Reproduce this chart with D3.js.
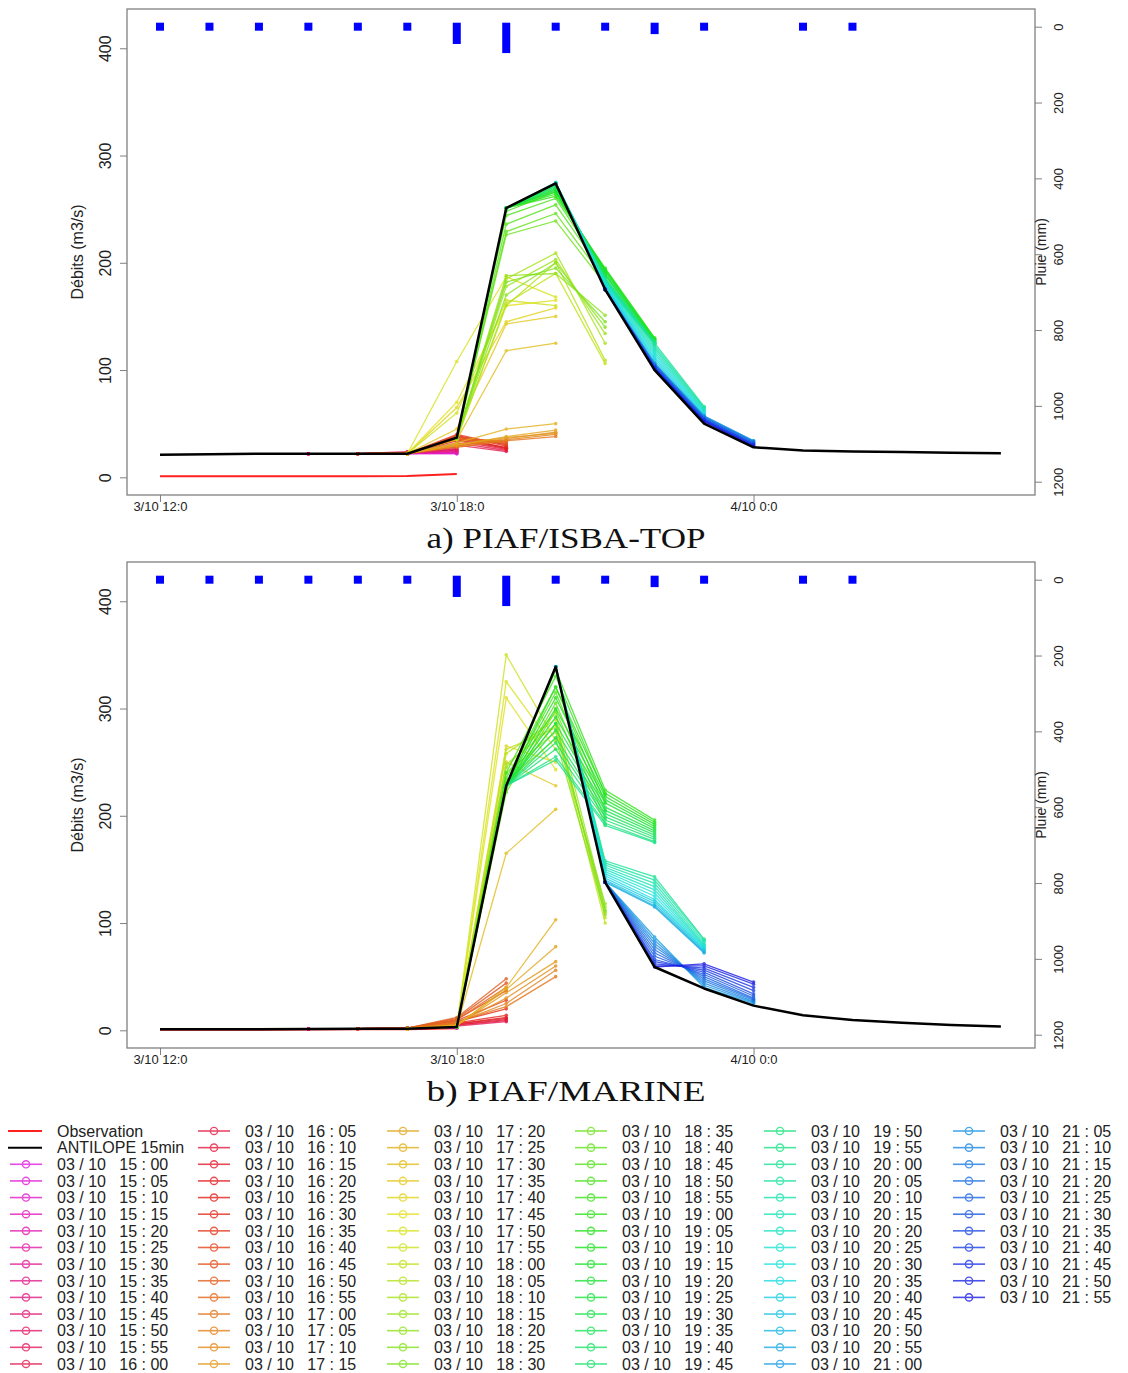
<!DOCTYPE html>
<html><head><meta charset="utf-8">
<script src="https://cdn.jsdelivr.net/npm/d3@7"></script>
<style>body{margin:0;background:#fff} svg{display:block}</style>
</head><body>
<svg id="c" width="1128" height="1373"></svg>
<script>
// ---------- DATA ----------
// hourly x positions: index 0 = 3/10 12:00 ... 17 = 4/10 05:00
const xTickHours = [0, 6, 12];
const xTickLabels = ["3/10 12:0", "3/10 18:0", "4/10 0:0"];
const yTicks = [0, 100, 200, 300, 400];
const rainTicks = [0, 200, 400, 600, 800, 1000, 1200];

// rainfall (mm) per hour, index 0 = 12:00
const rain = [0, 0, 0, 0, 0, 0, 35, 59, 0, 0, 9, 0, null, 0, 0];

// ANTILOPE 15min reference (black)
const antilopeA = [21, 21.5, 22, 22, 22, 22, 37, 251, 274, 175, 100, 50, 28, 25, 24, 23.5, 23, 22.5];
const antilopeB = [1, 1, 1, 1.2, 1.5, 1.5, 3, 228, 339, 138, 59, 39, 23, 14, 9.5, 7, 5, 3.5];
// Observation (red)
const obsA = [1, 1, 1, 1, 1, 1.2, 3];
const obsB = [0.6, 0.6, 0.6, 0.8, 1, 1, 2];

// forecast issue times (03/10)
const issueTimes = [
 "15:00","15:05","15:10","15:15","15:20","15:25","15:30","15:35","15:40","15:45","15:50","15:55",
 "16:00","16:05","16:10","16:15","16:20","16:25","16:30","16:35","16:40","16:45","16:50","16:55",
 "17:00","17:05","17:10","17:15","17:20","17:25","17:30","17:35","17:40","17:45","17:50","17:55",
 "18:00","18:05","18:10","18:15","18:20","18:25","18:30","18:35","18:40","18:45","18:50","18:55",
 "19:00","19:05","19:10","19:15","19:20","19:25","19:30","19:35","19:40","19:45","19:50","19:55",
 "20:00","20:05","20:10","20:15","20:20","20:25","20:30","20:35","20:40","20:45","20:50","20:55",
 "21:00","21:05","21:10","21:15","21:20","21:25","21:30","21:35","21:40","21:45","21:50","21:55"];

// forecasts: 4 hourly values starting at the issue hour
const fcA = [
 [22,22,22,22],[22,22,22,23],[22,22,22,22],[22,22,22,24],[22,22,22,23],[22,22,22,25],
 [22,22,23,26],[22,22,23,24],[22,22,22,27],[22,22,23,25],[22,22,23,28],[22,22,24,26],
 [22,22,30,24],[22,22,32,25],[22,22,34,26],[22,22,35,27],[22,22,36,28],[22,22,38,27],
 [22,22,39,29],[22,22,40,30],[22,22,38,31],[22,23,36,32],[22,23,37,33],[22,23,35,34],
 [22,28,34,38],[22,29,35,40],[22,30,36,42],[22,31,37,41],[22,30,38,44],[22,32,45,50],
 [22,35,118,125],[22,45,143,150],[22,65,145,158],[22,70,160,165],[22,108,187,168],[22,60,165,160],
 [35,162,190,106],[36,160,200,109],[37,185,209,125],[37,178,203,134],[37,188,190,151],[37,170,200,140],[37,182,195,145],
 [37,226,239,180],[37,229,246,184],[37,236,254,188],[37,244,260,190],[37,248,266,192],
 [251,262,195,130],[251,264,194,129],[251,266,193,129],[251,267,192,128],[251,268,190,128],[251,269,189,127],
 [251,270,188,127],[251,271,186,126],[251,272,185,126],[251,273,184,125],[251,274,182,125],[251,275,181,124],
 [274,185,125,66],[274,184,123,65],[274,183,121,64],[274,182,119,63],[274,181,117,62],[274,180,115,61],
 [274,179,113,60],[274,179,111,59],[274,178,109,58],[274,177,107,57],[274,176,105,56],[274,176,104,55],
 [175,106,57,34],[175,106,57,34],[175,105,56,33],[175,105,56,33],[175,104,55,32],[175,104,55,32],
 [175,103,54,31],[175,103,54,31],[175,102,53,30],[175,102,53,30],[175,101,52,29],[175,101,52,29]];

const fcB = [
 [1.2,1.5,1.5,2],[1.2,1.5,1.5,2],[1.2,1.5,1.5,3],[1.2,1.5,1.6,2],[1.2,1.5,1.6,3],[1.2,1.5,1.7,3],
 [1.2,1.5,1.8,4],[1.2,1.5,1.8,3],[1.2,1.5,1.9,4],[1.2,1.5,2,5],[1.2,1.5,2,4],[1.2,1.5,2.2,6],
 [1.5,1.5,4,8],[1.5,1.5,5,9],[1.5,1.5,5,10],[1.5,1.5,6,11],[1.5,1.5,6,12],[1.5,1.6,7,14],
 [1.5,2,8,20],[1.5,2,9,28],[1.5,2,10,37],[1.5,2,11,44],[1.5,2,12,48],[1.5,2,10,40],
 [1.5,8,22,50],[1.5,7,25,56],[1.5,6,30,60],[1.5,5,35,64],[1.5,5,38,78],[1.5,4,40,103],
 [1.5,3,165,206],[1.5,3,250,228],[1.5,3,265,250],[1.5,3,310,243],[1.5,3,325,262],[1.5,3,350,270],
 [3,262,282,100],[3,258,290,105],[3,248,285,110],[3,245,296,115],[3,240,278,118],[3,232,272,108],[3,228,286,112],
 [3,222,298,192],[3,225,305,198],[3,230,315,205],[3,235,320,212],[3,240,330,220],
 [228,336,224,196],[228,320,221,194],[228,310,218,192],[228,300,215,190],[228,292,212,188],[228,286,208,186],
 [228,280,205,184],[228,273,202,182],[228,268,199,180],[228,262,196,178],[228,255,193,176],[228,252,191,175],
 [339,158,143,85],[339,156,140,84],[339,154,137,82],[339,152,134,80],[339,150,131,79],[339,148,128,78],
 [339,146,125,77],[339,144,122,76],[339,142,120,75],[339,140,118,74],[339,139,116,73],[339,138,115,72],
 [138,87,40,25],[138,84,42,26],[138,81,44,27],[138,78,46,28],[138,75,48,29],[138,72,50,30],
 [138,69,52,32],[138,66,54,34],[138,64,56,37],[138,62,58,40],[138,60,60,43],[138,59,62,45]];

const captions = ["a) PIAF/ISBA-TOP", "b) PIAF/MARINE"];

// ---------- DRAW ----------
const svg = d3.select("#c");
const SANS = "'Liberation Sans', Arial, sans-serif";
const nF = issueTimes.length;
const colorOf = i => d3.hsl((300 + i * 300 / (nF - 1)) % 360, 0.78, 0.5).formatHex();
const startHour = t => +t.split(":")[0] - 12;

function panel(top, antilope, obs, fc, caption) {
  const L = 127, R = 1035, B = top + 486;
  const g = svg.append("g");
  const x = d3.scaleLinear().domain([-0.667, 17.69]).range([L, R]);
  const y = d3.scaleLinear().domain([-16.5, 436.6]).range([B, top]);
  const yr = d3.scaleLinear().domain([0, 1200]).range([top + 17.7, top + 472.7]);

  // rain bars
  g.append("g").selectAll("rect").data(rain.map((v, i) => ({v, i})).filter(d => d.v !== null))
    .join("rect")
    .attr("x", d => x(d.i) - 4).attr("width", 8)
    .attr("y", yr(0) - 4).attr("height", d => yr(d.v) - yr(0) + 8)
    .attr("fill", "#0000ff");

  const line = d3.line().x(d => x(d[0])).y(d => y(d[1]));

  // observation
  g.append("path").datum(obs.map((v, i) => [i, v]))
    .attr("d", line).attr("fill", "none").attr("stroke", "#ff2020").attr("stroke-width", 2);

  // forecasts
  fc.forEach((vals, i) => {
    const h0 = startHour(issueTimes[i]);
    const pts = vals.map((v, k) => [h0 + k, v]);
    const c = colorOf(i);
    const fg = g.append("g").attr("opacity", 0.8);
    fg.append("path").datum(pts).attr("d", line).attr("fill", "none")
      .attr("stroke", c).attr("stroke-width", 1.3);
    fg.selectAll("circle").data(pts).join("circle")
      .attr("cx", d => x(d[0])).attr("cy", d => y(d[1])).attr("r", 1.8).attr("fill", c);
  });

  // ANTILOPE
  g.append("path").datum(antilope.map((v, i) => [i, v]))
    .attr("d", line).attr("fill", "none").attr("stroke", "#000").attr("stroke-width", 2.5)
    .attr("stroke-linejoin", "round");

  // box
  g.append("rect").attr("x", L).attr("y", top).attr("width", R - L).attr("height", B - top)
    .attr("fill", "none").attr("stroke", "#808080").attr("stroke-width", 1.3);

  // left axis
  const ax = g.append("g").attr("transform", `translate(${L},0)`)
    .call(d3.axisLeft(y).tickValues(yTicks).tickSize(7).tickFormat(d3.format("d")));
  ax.select(".domain").remove();
  ax.selectAll("line").attr("stroke", "#808080");
  ax.selectAll("text").attr("x", 0).attr("y", -16).attr("dy", 0)
    .attr("transform", "rotate(-90)").attr("text-anchor", "middle")
    .attr("font-family", SANS).attr("font-size", 16).attr("fill", "#222");
  g.append("text").attr("transform", `translate(83,${(top + B) / 2}) rotate(-90)`)
    .attr("text-anchor", "middle").attr("font-family", SANS).attr("font-size", 16).attr("fill", "#222")
    .text("Débits (m3/s)");

  // right axis
  const ar = g.append("g").attr("transform", `translate(${R},0)`)
    .call(d3.axisRight(yr).tickValues(rainTicks).tickSize(7).tickFormat(d3.format("d")));
  ar.select(".domain").remove();
  ar.selectAll("line").attr("stroke", "#808080");
  ar.selectAll("text").attr("x", 0).attr("y", 28).attr("dy", 0)
    .attr("transform", "rotate(-90)").attr("text-anchor", "middle")
    .attr("font-family", SANS).attr("font-size", 13).attr("fill", "#222");
  g.append("text").attr("transform", `translate(1046,${(top + B) / 2}) rotate(-90)`)
    .attr("text-anchor", "middle").attr("font-family", SANS).attr("font-size", 14).attr("fill", "#222")
    .text("Pluie (mm)");

  // bottom axis
  const axb = g.append("g").attr("transform", `translate(0,${B})`)
    .call(d3.axisBottom(x).tickValues(xTickHours).tickSize(7).tickFormat((d, i) => xTickLabels[i]));
  axb.select(".domain").remove();
  axb.selectAll("line").attr("stroke", "#808080");
  axb.selectAll("text").attr("y", 16).attr("dy", 0)
    .attr("font-family", SANS).attr("font-size", 13).attr("fill", "#222");

  // caption
  svg.append("text").attr("x", 566).attr("y", B + 53).attr("text-anchor", "middle")
    .attr("font-family", "'Liberation Serif', 'DejaVu Serif', serif").attr("font-size", 29)
    .attr("fill", "#111").attr("textLength", 279).attr("lengthAdjust", "spacingAndGlyphs")
    .text(caption);
}

panel(9, antilopeA, obsA, fcA, captions[0]);
panel(562, antilopeB, obsB, fcB, captions[1]);

// ---------- LEGEND ----------
const legendItems = [
  {label: "Observation", color: "#ff2020", pt: false},
  {label: "ANTILOPE 15min", color: "#000", pt: false},
  ...issueTimes.map((t, i) => ({label: "03 / 10   " + t.replace(":", " : "), color: colorOf(i), pt: true}))
];
const colX = [57, 245, 434, 622, 811, 1000];
const rowY0 = 1131, rowH = 16.64, perCol = 15;
const lg = svg.append("g");
legendItems.forEach((d, k) => {
  const col = Math.floor(k / perCol), row = k % perCol;
  const tx = colX[col], cy = rowY0 + row * rowH;
  const it = lg.append("g");
  if (d.pt) {
    const ig = it.append("g").attr("opacity", 0.8);
    ig.append("line").attr("x1", tx - 47).attr("x2", tx - 15).attr("y1", cy).attr("y2", cy)
      .attr("stroke", d.color).attr("stroke-width", 1.6);
    ig.append("circle").attr("cx", tx - 31).attr("cy", cy).attr("r", 3.6)
      .attr("fill", "none").attr("stroke", d.color).attr("stroke-width", 1.4);
  } else {
    it.append("line").attr("x1", tx - 49).attr("x2", tx - 15).attr("y1", cy).attr("y2", cy)
      .attr("stroke", d.color).attr("stroke-width", 2);
  }
  it.append("text").attr("x", tx).attr("y", cy + 5.8).style("white-space", "pre")
    .attr("font-family", SANS).attr("font-size", 16).attr("fill", "#222").text(d.label);
});
</script></body></html>
